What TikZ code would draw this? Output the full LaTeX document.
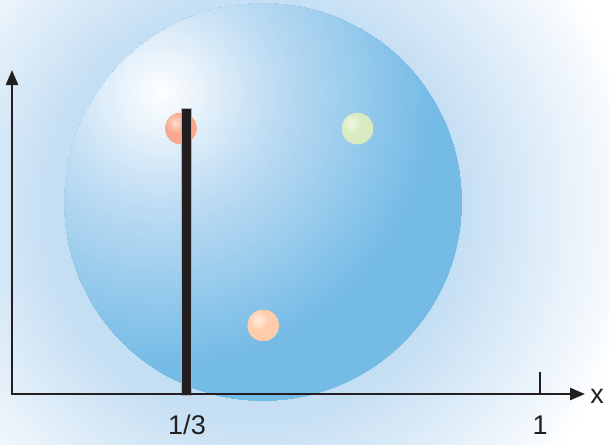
\documentclass[tikz,border=0pt]{standalone}
\usepackage{fontspec}
\setmainfont{Liberation Sans}
\usetikzlibrary{arrows.meta}
\definecolor{ink}{HTML}{231F20}
\definecolor{glow}{HTML}{C4DEF3}
\definecolor{sphdark}{HTML}{74BBE6}
\definecolor{sphmid}{HTML}{C0DDF3}
\definecolor{ballred}{HTML}{F8A88C}
\definecolor{ballgreen}{HTML}{D9EBC1}
\definecolor{ballorange}{HTML}{FFCDAB}
\newcommand\myballdraw[4]{%
  \node[circle, minimum size=31pt, inner sep=0pt] (#1) at (#2,#3) {};
  \begin{scope}
    \clip (#1.center) circle (15.5pt);
    \foreach \r in {24,23,...,1}{
      \pgfmathsetmacro\p{min(100,35+\r*6)}
      \fill[#4!\p!white] ([shift={(-5pt,5pt)}]#1.center) circle (\r pt);
    }
  \end{scope}}
\begin{document}
\begin{tikzpicture}[x=1pt,y=-1pt,
  axis/.style={draw=ink, line width=2.5pt},
  lab/.style={text=ink, anchor=base, inner sep=0pt, font=\fontsize{27}{30}\selectfont}]
\useasboundingbox (0,0) rectangle (609,444);
\coordinate (G) at (255,210);
\coordinate (H) at (161,93);
\begin{scope}
  \clip (0,0) rectangle (609,444);
  \fill[white] (0,0) rectangle (609,444);
  \foreach \r in {440,437,...,200}{
    \pgfmathsetmacro\w{min(100,max(0,(\r-205)/1.85))}
    \fill[white!\w!glow] (G) circle (\r pt);
  }
\end{scope}
\node[circle, minimum size=397pt, inner sep=0pt] (sphere) at (263,202) {};
\begin{scope}
  \clip (sphere.center) circle (198.5pt);
  \foreach \r in {370,367,...,110}{
    \pgfmathsetmacro\p{min(100,(\r-110)/1.65)}
    \fill[sphdark!\p!sphmid] (H) circle (\r pt);
  }
  \foreach \r in {108,106,...,2}{
    \pgfmathsetmacro\p{\r/1.1}
    \fill[sphmid!\p!white] (H) circle (\r pt);
  }
\end{scope}
\myballdraw{red}{181}{128.5}{ballred}
\myballdraw{green}{357.5}{128.7}{ballgreen}
\myballdraw{orange}{263.3}{325.5}{ballorange}
\node[fill=ink, draw=gray!60, line width=0.5pt, minimum width=10pt, minimum height=287pt, inner sep=0pt, anchor=north] (bar) at (186,108) {};
\coordinate (O) at (12,394);
\coordinate (ytip) at (12,70);
\coordinate (xtip) at (585,394);
\coordinate (t1) at (540,394);
\coordinate (t1top) at (540,372);
\draw[axis, line join=miter, {Triangle[length=15pt,width=12pt]}-{Triangle[length=15pt,width=12pt]}] (ytip) -- (O) -- (xtip);
\draw[axis] (t1) -- (t1top);
\node[lab] (l13) at (187,434) {1/3};
\node[lab] (l1) at (540,434) {1};
\node[lab] (lx) at (597,403) {x};
\end{tikzpicture}
\end{document}
